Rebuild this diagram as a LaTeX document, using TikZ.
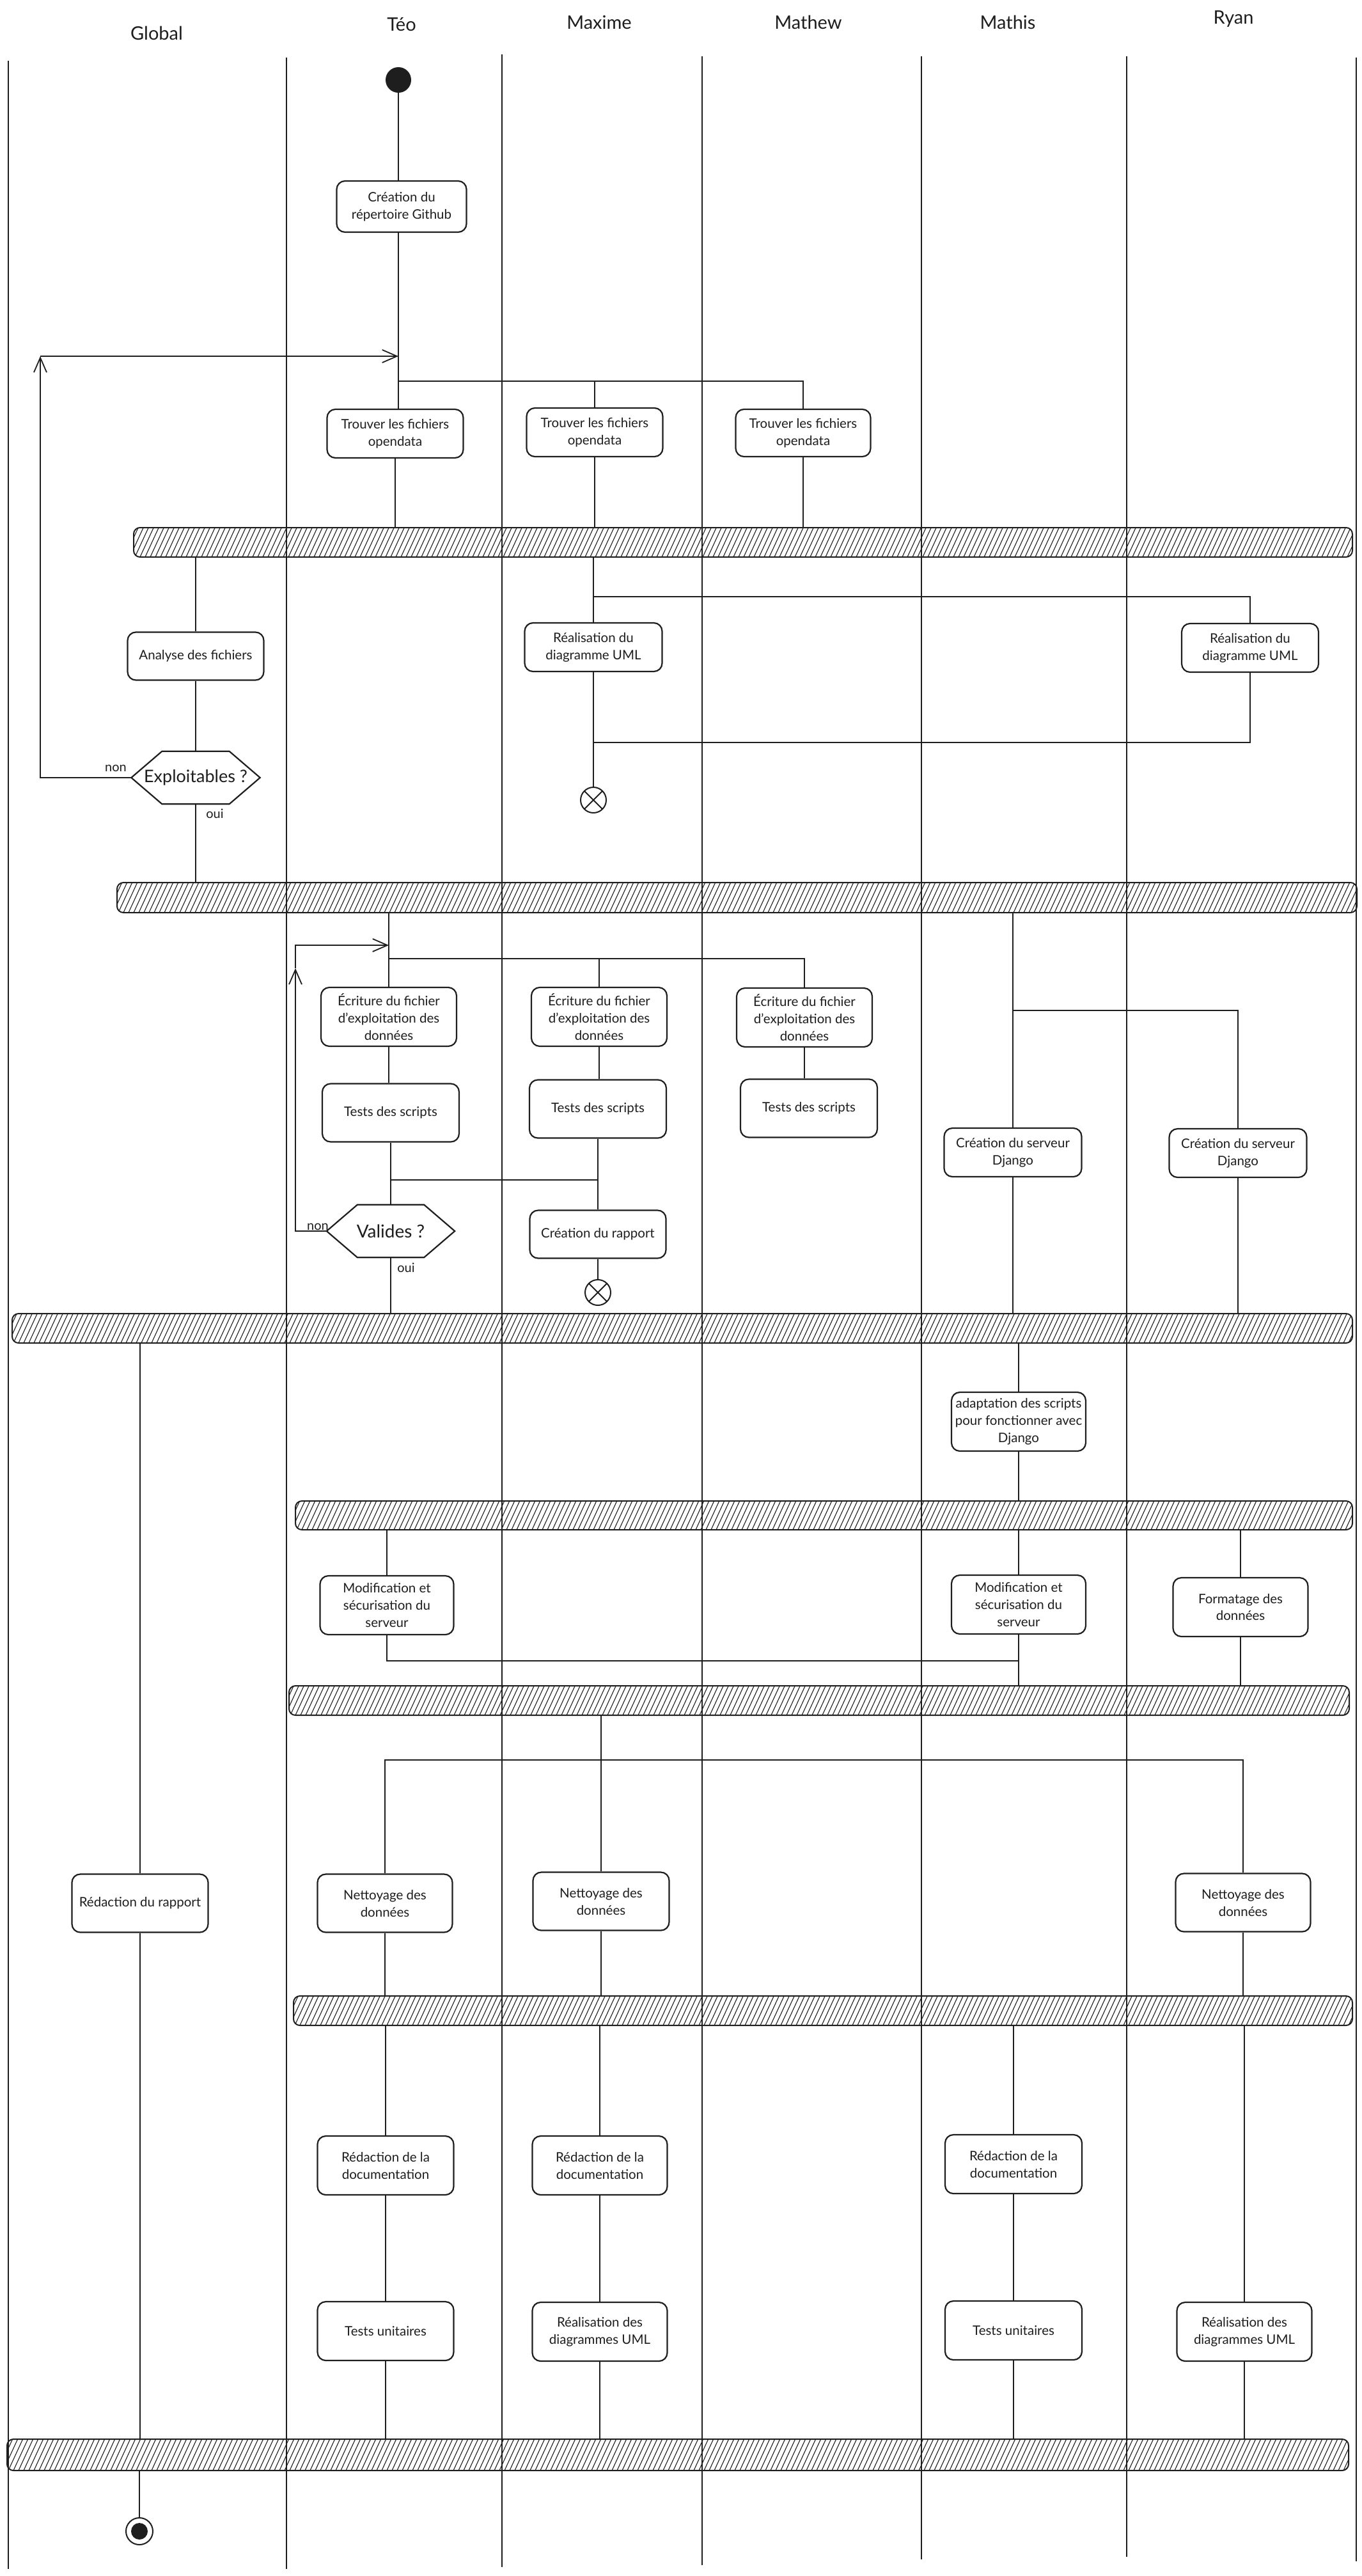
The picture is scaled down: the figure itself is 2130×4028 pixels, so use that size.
\documentclass[tikz,border=0pt]{standalone}
\usepackage{fontspec}
\setmainfont{Lato}
\usetikzlibrary{arrows.meta,calc}
\definecolor{ink}{HTML}{1E1E1E}
\begin{document}
\begin{tikzpicture}[x=1pt,y=-1pt,
  lane/.style={draw=ink, line width=1.6pt},
  conn/.style={draw=ink, line width=1.6pt},
  arr/.style={conn, -{Straight Barb[length=23pt,width=20pt,line width=1.8pt]}},
  head/.style={font=\fontsize{29}{32}\selectfont, text=ink, inner sep=0pt},
  lbl/.style={font=\fontsize{20}{24}\selectfont, text=ink, inner sep=0pt},
  act/.style={draw=ink, line width=2.2pt, rounded corners=13pt, fill=white,
    align=center, text=ink, inner sep=0pt, font=\fontsize{20.5}{27}\selectfont},
  a2/.style={act, minimum width=213pt, minimum height=76pt},
  a3/.style={act, minimum width=212pt, minimum height=92pt},
  dec/.style={align=center, text=ink, inner sep=0pt, minimum width=201pt,
    minimum height=82pt, font=\fontsize{27}{30}\selectfont},
  decline/.style={draw=ink, line width=2.2pt, line join=miter},
  initial/.style={circle, fill=ink, minimum size=40pt, inner sep=0pt},
  final/.style={circle, draw=ink, line width=2pt, minimum size=42pt, inner sep=0pt,
    path picture={\fill[ink] (path picture bounding box.center) circle (13pt);}},
  flowend/.style={circle, draw=ink, line width=2pt, minimum size=40pt, inner sep=0pt,
    path picture={\draw[ink, line width=2pt]
      (path picture bounding box.north west) -- (path picture bounding box.south east)
      (path picture bounding box.north east) -- (path picture bounding box.south west);}},
  syncbar/.style={draw=ink, line width=2pt, rounded corners=10pt, inner sep=0pt,
    path picture={\draw[ink, line width=1.1pt]
      \foreach \k in {-30,-22,...,2150} {([xshift=\k pt]path picture bounding box.south west) -- ++(24pt,52pt)};}},
]
\newcommand\hexoutline[1]{%
  \draw[decline] (#1.west) -- ([xshift=48pt]#1.north west) -- ([xshift=-48pt]#1.north east)
    -- (#1.east) -- ([xshift=-48pt]#1.south east) -- ([xshift=48pt]#1.south west) -- cycle;}

% page
\fill[white] (0,0) rectangle (2130,4028);
\useasboundingbox (0,0) rectangle (2130,4028);

% swimlane separators
\draw[lane] (13,95) -- (13,4017);
\draw[lane] (448,90) -- (448,4017);
\draw[lane] (785,85) -- (785,4014);
\draw[lane] (1098,88) -- (1098,4011);
\draw[lane] (1441,88) -- (1441,4002);
\draw[lane] (1762,88) -- (1762,3998);
\draw[lane] (2121,90) -- (2121,4005);

% lane titles
\node[head] (hG) at (245,52) {Global};
\node[head] (hT) at (628,38) {Téo};
\node[head] (hM) at (937,35) {Maxime};
\node[head] (hW) at (1264,35) {Mathew};
\node[head] (hS) at (1576,35) {Mathis};
\node[head] (hR) at (1929,30) {Ryan};

% synchronisation bars
\node[syncbar, minimum width=1906pt, minimum height=46pt] (bar1) at (1162,848) {};
\node[syncbar, minimum width=1939pt, minimum height=47pt] (bar2) at (1152.5,1403.5) {};
\node[syncbar, minimum width=2096pt, minimum height=46pt] (bar3) at (1067,2077) {};
\node[syncbar, minimum width=1653pt, minimum height=45pt] (bar4) at (1288.5,2369.5) {};
\node[syncbar, minimum width=1658pt, minimum height=46pt] (bar5) at (1281,2659) {};
\node[syncbar, minimum width=1656pt, minimum height=46pt] (bar6) at (1287,3144) {};
\node[syncbar, minimum width=2098pt, minimum height=49pt] (bar7) at (1060,3838.5) {};

% start and repository
\node[initial] (start) at (623,125) {};
\node[a2, minimum width=203pt, minimum height=80pt] (t1) at (628,323) {Création du\\répertoire Github};

% open data search
\node[a2] (t2) at (618,678) {Trouver les fichiers\\opendata};
\node[a2] (m2) at (930,676) {Trouver les fichiers\\opendata};
\node[a2, minimum width=211pt, minimum height=74pt] (w2) at (1256,677) {Trouver les fichiers\\opendata};

% analysis and UML
\node[a2, minimum height=75pt] (g1) at (306,1026) {Analyse des fichiers};
\node[dec] (q1) at (306,1216) {Exploitables ?};
\hexoutline{q1}
\node[a2, minimum width=215pt] (m3) at (928,1012) {Réalisation du\\diagramme UML};
\node[a2, minimum width=214pt] (r3) at (1955,1013) {Réalisation du\\diagramme UML};
\node[flowend] (ff1) at (928,1251) {};
\node[lbl] (non1) at (181,1201) {non};
\node[lbl] (oui1) at (336,1272) {oui};

% exploitation scripts
\node[a3] (t4) at (608,1590) {Écriture du fichier\\d'exploitation des\\données};
\node[a3] (m4) at (937,1590) {Écriture du fichier\\d'exploitation des\\données};
\node[a3] (w4) at (1258,1591) {Écriture du fichier\\d'exploitation des\\données};
\node[a3, minimum width=214pt, minimum height=91pt] (t5) at (611,1740) {Tests des scripts};
\node[a3, minimum width=214pt, minimum height=91pt] (m5) at (935,1734) {Tests des scripts};
\node[a3, minimum width=214pt, minimum height=91pt] (w5) at (1265,1733) {Tests des scripts};
\node[dec, minimum width=200pt, font=\fontsize{28}{30}\selectfont] (q2) at (611,1925) {Valides ?};
\hexoutline{q2}
\node[a2, minimum height=75pt] (m6) at (935,1930) {Création du rapport};
\node[flowend] (ff2) at (935,2021) {};
\node[lbl] (non2) at (497,1918) {non};
\node[lbl] (oui2) at (635,1982) {oui};
\node[a2, minimum width=215pt] (s4) at (1584,1802) {Création du serveur\\Django};
\node[a2, minimum width=215pt] (r4) at (1936,1803) {Création du serveur\\Django};

% Django integration
\node[a3, minimum width=210pt] (s5) at (1593,2223) {adaptation des scripts\\pour fonctionner avec\\Django};
\node[a3, minimum width=209pt] (t6) at (605,2510) {Modification et\\sécurisation du\\serveur};
\node[a3, minimum width=210pt] (s6) at (1593,2509) {Modification et\\sécurisation du\\serveur};
\node[a3, minimum width=211pt] (r6) at (1940,2513) {Formatage des\\données};

% cleaning and report
\node[a3, minimum width=213pt, minimum height=91pt] (g7) at (219,2976) {Rédaction du rapport};
\node[a3, minimum width=211pt, minimum height=91pt] (t7) at (602,2976) {Nettoyage des\\données};
\node[a3, minimum width=213pt, minimum height=91pt] (m7) at (940,2973) {Nettoyage des\\données};
\node[a3, minimum width=211pt, minimum height=91pt] (r7) at (1944,2975) {Nettoyage des\\données};

% documentation and tests
\node[a3, minimum width=213pt] (t8) at (603,3386) {Rédaction de la\\documentation};
\node[a3, minimum width=211pt] (m8) at (938,3386) {Rédaction de la\\documentation};
\node[a3, minimum width=214pt] (s8) at (1585,3384) {Rédaction de la\\documentation};
\node[a3, minimum width=213pt] (t9) at (603,3645) {Tests unitaires};
\node[a3, minimum width=211pt] (m9) at (938,3646) {Réalisation des\\diagrammes UML};
\node[a3, minimum width=214pt] (s9) at (1585,3644) {Tests unitaires};
\node[a3, minimum width=211pt] (r9) at (1946,3646) {Réalisation des\\diagrammes UML};
\node[final] (endnode) at (218,3958) {};

% routing points
\coordinate (f1) at (623,596);
\coordinate (lp1) at (63,557);
\coordinate (j1) at (0,933);
\coordinate (j2) at (0,1161);
\coordinate (lp2) at (462,1514);
\coordinate (la2) at (0,1478);
\coordinate (f2) at (0,1499);
\coordinate (j3) at (0,1845);
\coordinate (f3) at (0,1580);
\coordinate (j4) at (0,2597);
\coordinate (f4) at (0,2752);

% --- connectors ---
\draw[conn] (start) -- (start |- t1.north);
\draw[conn] (t1.south -| start) -- (start |- t2.north);
\draw[conn] (f1) -| (w2.north);
\draw[conn] (f1 -| m2.north) -- (m2.north);
\draw[conn] (t2.south) -- (t2.south |- bar1.north);
\draw[conn] (m2.south) -- (m2.south |- bar1.north);
\draw[conn] (w2.south) -- (w2.south |- bar1.north);

\draw[conn] (g1.north |- bar1.south) -- (g1.north);
\draw[conn] (g1.south) -- (q1.north);
\draw[arr] (q1.west) -| (lp1);
\draw[arr] (lp1) -- (lp1 -| start);
\draw[conn] (q1.south) -- (q1.south |- bar2.north);

\draw[conn] (m3.north |- bar1.south) -- (m3.north);
\draw[conn] (m3.north |- j1) -| (r3.north);
\draw[conn] (r3.south) |- (j2 -| m3.south);
\draw[conn] (m3.south) -- (ff1);

\draw[conn] (t4.north |- bar2.south) -- (t4.north);
\draw[conn] (t4.north |- f2) -| (w4.north);
\draw[conn] (f2 -| m4.north) -- (m4.north);
\draw[arr] (q2.west) -| (lp2);
\draw[arr] (lp2) |- (la2 -| t4.north);
\draw[conn] (t4.south) -- (t4.south |- t5.north);
\draw[conn] (m4.south) -- (m4.south |- m5.north);
\draw[conn] (w4.south) -- (w4.south |- w5.north);
\draw[conn] (t5.south) -- (q2.north);
\draw[conn] (t5.south |- j3) -- (j3 -| m5.south);
\draw[conn] (m5.south) -- (m5.south |- m6.north);
\draw[conn] (m6.south) -- (ff2);
\draw[conn] (q2.south) -- (q2.south |- bar3.north);

\draw[conn] (s4.north |- bar2.south) -- (s4.north);
\draw[conn] (s4.north |- f3) -| (r4.north);
\draw[conn] (s4.south) -- (s4.south |- bar3.north);
\draw[conn] (r4.south) -- (r4.south |- bar3.north);

\draw[conn] (g7.north |- bar3.south) -- (g7.north);
\draw[conn] (g7.south) -- (g7.south |- bar7.north);
\draw[conn] (endnode |- bar7.south) -- (endnode);

\draw[conn] (s5.north |- bar3.south) -- (s5.north);
\draw[conn] (s5.south) -- (s5.south |- bar4.north);
\draw[conn] (t6.north |- bar4.south) -- (t6.north);
\draw[conn] (s6.north |- bar4.south) -- (s6.north);
\draw[conn] (r6.north |- bar4.south) -- (r6.north);
\draw[conn] (t6.south) |- (j4 -| s6.south);
\draw[conn] (s6.south) -- (s6.south |- bar5.north);
\draw[conn] (r6.south) -- (r6.south |- bar5.north);

\draw[conn] (m7.north |- bar5.south) -- (m7.north);
\draw[conn] (t7.north) |- (f4 -| r7.north) -- (r7.north);
\draw[conn] (t7.south) -- (t7.south |- bar6.north);
\draw[conn] (m7.south) -- (m7.south |- bar6.north);
\draw[conn] (r7.south) -- (r7.south |- bar6.north);

\draw[conn] (t8.north |- bar6.south) -- (t8.north);
\draw[conn] (m8.north |- bar6.south) -- (m8.north);
\draw[conn] (s8.north |- bar6.south) -- (s8.north);
\draw[conn] (r9.north |- bar6.south) -- (r9.north);
\draw[conn] (t8.south) -- (t9.north);
\draw[conn] (m8.south) -- (m9.north);
\draw[conn] (s8.south) -- (s9.north);
\draw[conn] (t9.south) -- (t9.south |- bar7.north);
\draw[conn] (m9.south) -- (m9.south |- bar7.north);
\draw[conn] (s9.south) -- (s9.south |- bar7.north);
\draw[conn] (r9.south) -- (r9.south |- bar7.north);
\end{tikzpicture}
\end{document}
